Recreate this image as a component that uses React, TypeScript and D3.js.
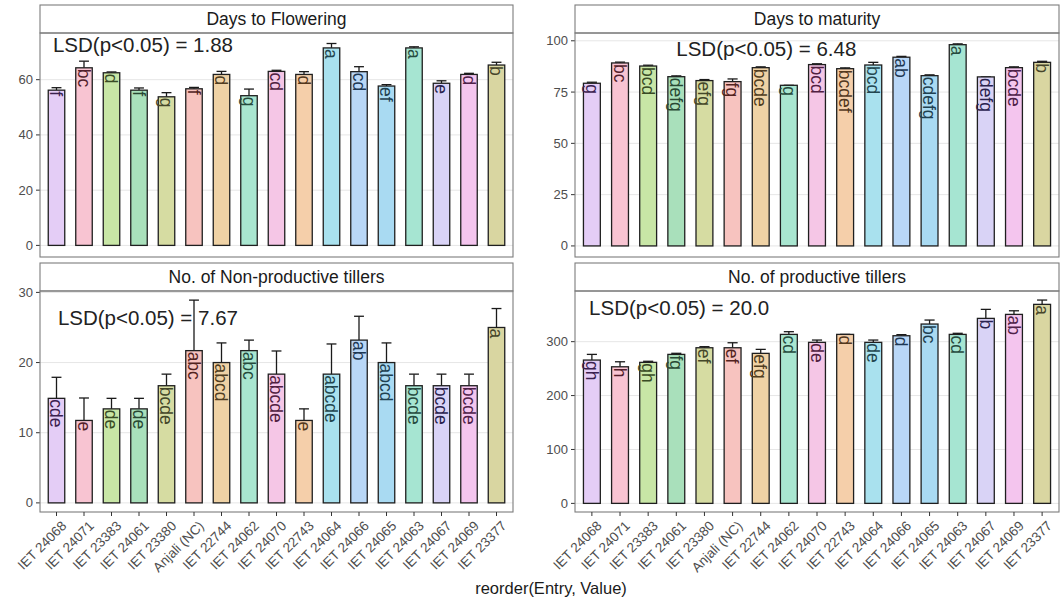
import * as d3 from 'd3';
import React, { useEffect, useRef } from 'react';

// entries in plotting order (same for every facet)
const entries = [
  'IET 24068', 'IET 24071', 'IET 23383', 'IET 24061', 'IET 23380', 'Anjali (NC)',
  'IET 22744', 'IET 24062', 'IET 24070', 'IET 22743', 'IET 24064', 'IET 24066',
  'IET 24065', 'IET 24063', 'IET 24067', 'IET 24069', 'IET 23377',
];

const fills = [
  '#e4cdf6', '#f8c4d2', '#c8e6a6', '#a9e0bb', '#d6dca2', '#f7c3bf', '#efd2a5', '#a9e6d0', '#f5c6e6',
  '#f5cfaa', '#a9e1ee', '#b9d7f7', '#a9daf2', '#a6e5d2', '#d9d3f6', '#f4c5ee', '#d9d6a1',
];

const flowering = [56.2, 64.3, 62.5, 56.2, 53.8, 56.7, 61.9, 54.2, 63.0, 61.9, 71.5, 62.9, 57.7, 71.5, 58.7, 61.9, 65.3];
const floweringErr = [0.9, 2.4, 0.3, 0.8, 1.5, 0.5, 1.1, 2.4, 0.4, 1.0, 1.6, 1.8, 0.5, 0.4, 0.9, 0.4, 1.0];
const floweringLetters = ['f', 'bc', 'd', 'f', 'g', 'f', 'd', 'g', 'cd', 'd', 'a', 'cd', 'ef', 'a', 'e', 'd', 'b'];

const maturity = [79.3, 89.2, 87.7, 82.5, 80.6, 80.1, 86.9, 78.3, 88.4, 86.4, 88.2, 92.0, 83.0, 98.1, 82.4, 86.9, 89.5];
const maturityErr = [0.5, 0.4, 0.4, 0.4, 0.5, 1.3, 0.4, 0, 0.4, 0.4, 1.3, 0.4, 0.4, 0.4, 0, 0.4, 0.5];
const maturityLetters = ['g', 'bc', 'bcd', 'defg', 'efg', 'fg', 'bcde', 'g', 'bcd', 'bcdef', 'bcd', 'ab', 'cdefg', 'a', 'defg', 'bcde', 'b'];

const nonProd = [14.9, 11.75, 13.4, 13.4, 16.7, 21.7, 20.0, 21.7, 18.35, 11.75, 18.35, 23.2, 20.0, 16.7, 16.7, 16.7, 25.0];
const nonProdErr = [3.0, 3.2, 1.5, 1.5, 1.65, 7.2, 2.8, 1.5, 3.3, 1.65, 4.3, 3.4, 2.8, 1.65, 1.65, 1.65, 2.7];
const nonProdLetters = ['cde', 'e', 'de', 'de', 'bcde', 'abc', 'abcd', 'abc', 'abcde', 'e', 'abcde', 'ab', 'abcd', 'bcde', 'bcde', 'bcde', 'a'];

const prod = [265.9, 253.4, 261.6, 276.4, 288.7, 288.7, 278.3, 313.5, 298.7, 313.5, 298.7, 311, 332.7, 313.5, 343.2, 350.6, 369.2];
const prodErr = [10.5, 9.3, 2, 2, 2, 9.3, 7.4, 5, 4.3, 0, 4.3, 2, 7.4, 2, 16.7, 6.7, 8];
const prodLetters = ['gh', 'h', 'gh', 'fg', 'ef', 'ef', 'efg', 'cd', 'de', 'd', 'de', 'd', 'bc', 'cd', 'b', 'ab', 'a'];

interface Facet {
  title: string;
  values: number[];
  errs: number[];
  letters: string[];
  lsd: string;
  lsdAt: [number, number]; // [entry index units, data value]
  domain: [number, number];
  ticks: number[];
  col: 0 | 1;
  row: 0 | 1;
}

const facets: Facet[] = [
  { title: 'Days to Flowering', values: flowering, errs: floweringErr, letters: floweringLetters,
    lsd: 'LSD(p<0.05) = 1.88', lsdAt: [0.87, 70], domain: [-4.2, 76.9], ticks: [0, 20, 40, 60], col: 0, row: 0 },
  { title: 'Days to maturity', values: maturity, errs: maturityErr, letters: maturityLetters,
    lsd: 'LSD(p<0.05) = 6.48', lsdAt: [4.0, 92.6], domain: [-5.4, 103.8], ticks: [0, 25, 50, 75, 100], col: 1, row: 0 },
  { title: 'No. of Non-productive tillers', values: nonProd, errs: nonProdErr, letters: nonProdLetters,
    lsd: 'LSD(p<0.05) = 7.67', lsdAt: [1.05, 25.4], domain: [-1.3, 30.2], ticks: [0, 10, 20, 30], col: 0, row: 1 },
  { title: 'No. of productive tillers', values: prod, errs: prodErr, letters: prodLetters,
    lsd: 'LSD(p<0.05) = 20.0', lsdAt: [0.9, 349], domain: [-16, 394], ticks: [0, 100, 200, 300], col: 1, row: 1 },
];

const FONT = '"Liberation Sans", Arial, Helvetica, sans-serif';

export default function App() {
  const svgRef = useRef<SVGSVGElement>(null);

  useEffect(() => {
    if (!svgRef.current) return;
    const svg = d3.select(svgRef.current);
    svg.selectAll('*').remove();

    const width = 1064;
    const height = 600;
    svg.attr('width', width).attr('height', height).style('font-family', FONT);
    svg.append('rect').attr('width', width).attr('height', height).attr('fill', '#ffffff');

    const cols = [[40, 513], [575, 1059]];
    const rows = [
      { strip: [5, 33], plot: [33, 257] },
      { strip: [263, 291], plot: [291, 512] },
    ];
    const borderColor = '#7d7d7d';

    facets.forEach(f => {
      const [x0, x1] = cols[f.col];
      const { strip, plot } = rows[f.row];

      const x = d3.scaleBand<string>()
        .domain(entries)
        .range([x0, x1])
        .paddingInner(0.4)
        .paddingOuter(0.3);
      const xPos = d3.scaleLinear().domain([0.4, 17.6]).range([x0, x1]);
      const y = d3.scaleLinear().domain(f.domain).range([plot[1], plot[0]]);

      const g = svg.append('g');

      // strip
      g.append('rect')
        .attr('x', x0).attr('y', strip[0])
        .attr('width', x1 - x0).attr('height', strip[1] - strip[0])
        .attr('fill', '#ffffff').attr('stroke', borderColor).attr('stroke-width', 1.1);
      g.append('text')
        .attr('x', (x0 + x1) / 2).attr('y', (strip[0] + strip[1]) / 2)
        .attr('dy', '0.36em')
        .attr('text-anchor', 'middle')
        .attr('font-size', 17.5)
        .attr('fill', '#1a1a1a')
        .text(f.title);

      // grid
      g.selectAll('.grid')
        .data(f.ticks)
        .enter()
        .append('line')
        .attr('x1', x0).attr('x2', x1)
        .attr('y1', d => y(d)).attr('y2', d => y(d))
        .attr('stroke', '#e6e6e6').attr('stroke-width', 1);

      // y axis ticks + labels
      g.selectAll('.ytick')
        .data(f.ticks)
        .enter()
        .append('line')
        .attr('x1', x0 - 4).attr('x2', x0)
        .attr('y1', d => y(d)).attr('y2', d => y(d))
        .attr('stroke', '#333333');
      g.selectAll('.ylab')
        .data(f.ticks)
        .enter()
        .append('text')
        .attr('x', x0 - 7).attr('y', d => y(d))
        .attr('dy', '0.35em')
        .attr('text-anchor', 'end')
        .attr('font-size', 13)
        .attr('fill', '#4d4d4d')
        .text(d => d3.format('d')(d));

      // error bars (upper half visible)
      const capW = x.bandwidth() * 0.6;
      f.values.forEach((v, i) => {
        const cx = (x(entries[i]) ?? 0) + x.bandwidth() / 2;
        const top = v + f.errs[i];
        g.append('line')
          .attr('x1', cx).attr('x2', cx)
          .attr('y1', y(v)).attr('y2', y(top))
          .attr('stroke', '#1a1a1a').attr('stroke-width', 1.3);
        g.append('line')
          .attr('x1', cx - capW / 2).attr('x2', cx + capW / 2)
          .attr('y1', y(top)).attr('y2', y(top))
          .attr('stroke', '#1a1a1a').attr('stroke-width', 1.3);
      });

      // bars
      g.selectAll('.bar')
        .data(f.values)
        .enter()
        .append('rect')
        .attr('x', (_, i) => x(entries[i]) ?? 0)
        .attr('y', d => y(d))
        .attr('width', x.bandwidth())
        .attr('height', d => y(0) - y(d))
        .attr('fill', (_, i) => fills[i])
        .attr('stroke', '#1f1f1f')
        .attr('stroke-width', 1.3);

      // letters, reading top to bottom from the bar top
      g.selectAll('.letter')
        .data(f.values)
        .enter()
        .append('text')
        .attr('transform', (d, i) => {
          const cx = (x(entries[i]) ?? 0) + x.bandwidth() / 2;
          return `translate(${cx},${y(d) + 1}) rotate(90)`;
        })
        .attr('dy', '0.36em')
        .attr('text-anchor', 'start')
        .attr('font-size', 17.5)
        .attr('fill', (_, i) => {
          const c = d3.hsl(fills[i]);
          c.l = 0.22;
          c.s = Math.min(1, c.s * 0.6);
          return c.formatHex();
        })
        .text((_, i) => f.letters[i]);

      // LSD annotation
      g.append('text')
        .attr('x', xPos(f.lsdAt[0])).attr('y', y(f.lsdAt[1]))
        .attr('font-size', 20.5)
        .attr('fill', '#222222')
        .text(f.lsd);

      // panel border
      g.append('rect')
        .attr('x', x0).attr('y', plot[0])
        .attr('width', x1 - x0).attr('height', plot[1] - plot[0])
        .attr('fill', 'none').attr('stroke', borderColor).attr('stroke-width', 1.1);

      // x axis only on bottom row
      if (f.row === 1) {
        const xt = g.append('g');
        entries.forEach(e => {
          const cx = (x(e) ?? 0) + x.bandwidth() / 2;
          xt.append('line')
            .attr('x1', cx).attr('x2', cx)
            .attr('y1', plot[1]).attr('y2', plot[1] + 4)
            .attr('stroke', '#333333');
          xt.append('text')
            .attr('transform', `translate(${cx + 5},${plot[1] + 9}) rotate(-45)`)
            .attr('text-anchor', 'end')
            .attr('dy', '0.6em')
            .attr('font-size', 13.5)
            .attr('fill', '#4d4d4d')
            .text(e);
        });
      }
    });

    svg.append('text')
      .attr('x', 551).attr('y', 594)
      .attr('text-anchor', 'middle')
      .attr('font-size', 16.5)
      .attr('fill', '#1a1a1a')
      .text('reorder(Entry, Value)');
  }, []);

  return (
    <div style={{ position: 'absolute', left: 0, top: 0 }}>
      <svg ref={svgRef} />
    </div>
  );
}
